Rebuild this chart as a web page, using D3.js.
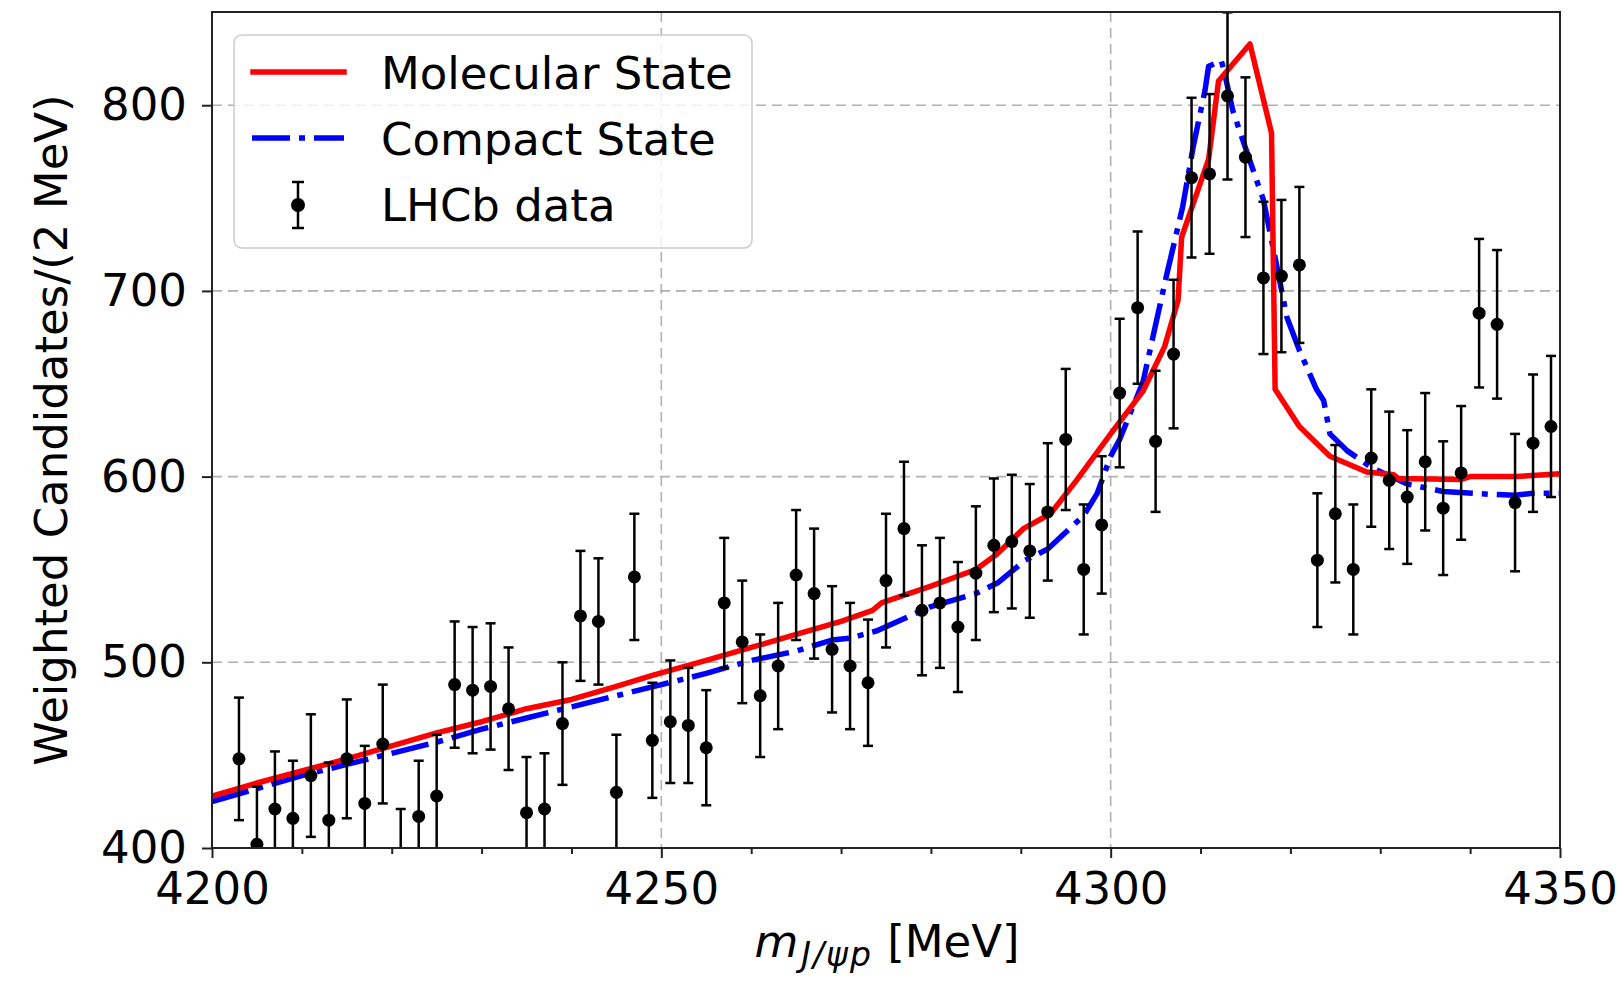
<!DOCTYPE html>
<html>
<head>
<meta charset="utf-8">
<script src="https://cdn.jsdelivr.net/npm/d3@7"></script>
<style>
body { margin: 0; background: #fff; }
svg text { font-family: 'DejaVu Sans', sans-serif; fill: #000; }
</style>
</head>
<body>
<svg width="1623" height="989"></svg>
<script>
// LHCb points (bin centre, weighted candidates, error)
var binMass = [4203, 4205, 4207, 4209, 4211, 4213, 4215, 4217, 4219, 4221, 4223, 4225, 4227, 4229, 4231, 4233, 4235, 4237, 4239, 4241,
               4243, 4245, 4247, 4249, 4251, 4253, 4255, 4257, 4259, 4261, 4263, 4265, 4267, 4269, 4271, 4273, 4275, 4277, 4279, 4281,
               4283, 4285, 4287, 4289, 4291, 4293, 4295, 4297, 4299, 4301, 4303, 4305, 4307, 4309, 4311, 4313, 4315, 4317, 4319, 4321,
               4323, 4325, 4327, 4329, 4331, 4333, 4335, 4337, 4339, 4341, 4343, 4345, 4347, 4349];
var binCounts = [448, 402, 421, 416, 439, 415, 448, 424, 456, 390, 417, 428, 488, 485, 487, 475, 419, 421, 467, 525,
                 522, 430, 546, 458, 468, 466, 454, 532, 511, 482, 498, 547, 537, 507, 498, 489, 544, 572, 528, 532,
                 519, 548, 563, 565, 560, 581, 620, 550, 574, 645, 691, 619, 666, 761, 763, 805, 772, 707, 708, 714,
                 555, 580, 550, 610, 598, 589, 608, 583, 602, 688, 682, 586, 618, 627];
var binErrors = [33, 31, 31, 31, 33, 31, 32, 31, 32, 31, 30, 33, 34, 34, 34, 33, 30, 30, 33, 35,
                 34, 31, 34, 31, 33, 31, 31, 35, 33, 33, 34, 35, 35, 34, 34, 34, 36, 36, 35, 35,
                 35, 36, 36, 36, 36, 37, 38, 35, 37, 40, 41, 38, 40, 43, 43, 45, 43, 41, 41, 42,
                 36, 37, 35, 37, 37, 36, 37, 36, 36, 40, 40, 37, 37, 38];

// Molecular state curve
var molMass = [4200, 4205, 4210, 4215, 4220, 4225, 4230, 4235, 4240, 4245, 4249, 4255, 4260, 4265, 4270, 4273.5, 4274.5, 4280, 4285, 4287.3,
               4290.3, 4293.3, 4296.2, 4300, 4303.6, 4306, 4307.5, 4307.9, 4310.9, 4312, 4315.5, 4317.9, 4318.3, 4321, 4324.4, 4328.5, 4331.5, 4332, 4339, 4340,
               4345, 4350];
var molValues = [428, 435, 441.5, 448, 455, 462, 468, 475, 480, 487, 493, 501, 508, 515, 522, 528, 532, 541, 550, 558,
                 572, 580, 598, 623, 646, 670, 695, 729, 771, 813, 833, 785, 647, 627, 611, 602.5, 601, 599, 598.5, 600,
                 600, 601.5];

// Compact state curve
var compMass = [4200, 4205, 4210, 4215, 4220, 4225, 4230, 4235, 4240, 4245, 4250, 4255, 4260, 4265, 4269, 4271, 4274, 4280, 4285, 4287.5,
                4290.5, 4293, 4295, 4297, 4298.5, 4300, 4301, 4302, 4303.6, 4306.2, 4308, 4309.2, 4310.5, 4310.9, 4312.3, 4312.6, 4313.6, 4315, 4317, 4318.5,
                4319.6, 4321, 4322.9, 4323.7, 4324.4, 4326.3, 4329, 4333, 4337, 4342, 4345, 4347, 4350];
var compValues = [425, 432, 439, 445, 451, 457, 464, 470, 476, 482, 488, 494, 501, 506, 512, 513, 517, 530, 537, 543,
                  555, 561, 570, 579, 591, 611, 620, 632, 651, 708, 745, 778, 808, 821, 824, 819, 797, 777, 749, 713,
                  686, 668, 647, 641, 623, 614, 605, 596, 592, 590.5, 590, 591, 591];

var xTicks = [4200, 4250, 4300, 4350];
var xMinorTicks = [4210, 4220, 4230, 4240, 4260, 4270, 4280, 4290, 4310, 4320, 4330, 4340];
var yTicks = [400, 500, 600, 700, 800];
var legendLabels = ['Molecular State', 'Compact State', 'LHCb data'];

var margin = {top: 12, right: 63, bottom: 141, left: 212};
var width = 1623 - margin.left - margin.right;
var height = 989 - margin.top - margin.bottom;

var svg = d3.select('svg');
var mySVG = svg.append('g')
  .attr('transform', 'translate(' + margin.left + ',' + margin.top + ')');

// scales
var xScale = d3.scaleLinear().domain([4200, 4350]).range([0, width]);
var yScale = d3.scaleLinear().domain([400, 850.2]).range([height, 0]);

mySVG.append('clipPath').attr('id', 'plotClip')
  .append('rect').attr('width', width).attr('height', height);

// grid
mySVG.append('g').selectAll('line')
  .data(xTicks).enter().append('line')
  .attr('x1', d => xScale(d)).attr('x2', d => xScale(d))
  .attr('y1', 0).attr('y2', height)
  .attr('stroke', '#b0b0b0').attr('stroke-width', 1.6).attr('stroke-dasharray', '10,6');
mySVG.append('g').selectAll('line')
  .data(yTicks).enter().append('line')
  .attr('x1', 0).attr('x2', width)
  .attr('y1', d => yScale(d)).attr('y2', d => yScale(d))
  .attr('stroke', '#b0b0b0').attr('stroke-width', 1.6).attr('stroke-dasharray', '10,6');

var plot = mySVG.append('g').attr('clip-path', 'url(#plotClip)');

var line = d3.line().x(d => xScale(d[0])).y(d => yScale(d[1]));

// compact state
plot.append('path')
  .datum(compMass.map((m, i) => [m, compValues[i]]))
  .attr('d', line)
  .attr('fill', 'none').attr('stroke', '#0000ff').attr('stroke-width', 5.5)
  .attr('stroke-dasharray', '38,9,6,9').attr('stroke-linejoin', 'round');

// molecular state
plot.append('path')
  .datum(molMass.map((m, i) => [m, molValues[i]]))
  .attr('d', line)
  .attr('fill', 'none').attr('stroke', '#ff0000').attr('stroke-width', 5.5)
  .attr('stroke-linejoin', 'round');

// data with error bars
var pts = plot.selectAll('.pt')
  .data(binMass.map((m, i) => ({m: m, v: binCounts[i], e: binErrors[i]})))
  .enter().append('g').attr('class', 'pt');

pts.append('line')
  .attr('x1', d => xScale(d.m)).attr('x2', d => xScale(d.m))
  .attr('y1', d => yScale(d.v - d.e)).attr('y2', d => yScale(d.v + d.e))
  .attr('stroke', '#000').attr('stroke-width', 2.5);
pts.selectAll('.cap')
  .data(d => [[d.m, d.v - d.e], [d.m, d.v + d.e]])
  .enter().append('line')
  .attr('x1', d => xScale(d[0]) - 5).attr('x2', d => xScale(d[0]) + 5)
  .attr('y1', d => yScale(d[1])).attr('y2', d => yScale(d[1]))
  .attr('stroke', '#000').attr('stroke-width', 2.5);
pts.append('circle')
  .attr('cx', d => xScale(d.m)).attr('cy', d => yScale(d.v))
  .attr('r', 6.5).attr('fill', '#000');

// axes
var xAxisGroup = mySVG.append('g')
  .attr('class', 'xAxis')
  .attr('transform', 'translate(0,' + height + ')');
xAxisGroup.call(d3.axisBottom(xScale).tickValues(xTicks).tickSize(10).tickPadding(14).tickFormat(d3.format('d')));
var xMinorGroup = mySVG.append('g')
  .attr('transform', 'translate(0,' + height + ')');
xMinorGroup.call(d3.axisBottom(xScale).tickValues(xMinorTicks).tickSize(6).tickFormat(''));
xMinorGroup.select('.domain').remove();

var yAxisGroup = mySVG.append('g').attr('class', 'yAxis');
yAxisGroup.call(d3.axisLeft(yScale).tickValues(yTicks).tickSize(10).tickPadding(15));

mySVG.selectAll('.tick line').attr('stroke', '#222').attr('stroke-width', 2);
mySVG.selectAll('.tick text').attr('font-size', 45).style('font-family', "'DejaVu Sans', sans-serif");
mySVG.selectAll('.domain').remove();

// frame
mySVG.append('rect')
  .attr('width', width).attr('height', height)
  .attr('fill', 'none').attr('stroke', '#222').attr('stroke-width', 2);

// axis labels
svg.append('text')
  .attr('transform', 'translate(67,' + (margin.top + height / 2) + ') rotate(-90)')
  .attr('text-anchor', 'middle')
  .attr('font-size', 45)
  .text('Weighted Candidates/(2 MeV)');

var xLabel = svg.append('text')
  .attr('x', margin.left + width / 2 + 1)
  .attr('y', 957)
  .attr('text-anchor', 'middle')
  .attr('font-size', 45);
xLabel.append('tspan').attr('font-style', 'italic').text('m');
xLabel.append('tspan').attr('font-style', 'italic').attr('font-size', 33).attr('dx', 3).attr('dy', 9)
  .attr('letter-spacing', 2).text('J/\u03C8p');
xLabel.append('tspan').attr('dy', -9).text(' [MeV]');

// legend
var legend = svg.append('g');
legend.append('rect')
  .attr('x', 234).attr('y', 35).attr('width', 518).attr('height', 213).attr('rx', 8)
  .attr('fill', '#fff').attr('fill-opacity', 0.8)
  .attr('stroke', '#cccccc').attr('stroke-width', 1.5);

legend.append('line')
  .attr('x1', 253).attr('x2', 344).attr('y1', 72).attr('y2', 72)
  .attr('stroke', '#ff0000').attr('stroke-width', 5.5).attr('stroke-linecap', 'square');
legend.append('line')
  .attr('x1', 252).attr('x2', 344).attr('y1', 138).attr('y2', 138)
  .attr('stroke', '#0000ff').attr('stroke-width', 5.5).attr('stroke-dasharray', '38,9,6,9');
legend.append('line')
  .attr('x1', 298).attr('x2', 298).attr('y1', 182).attr('y2', 228)
  .attr('stroke', '#000').attr('stroke-width', 2.5);
legend.selectAll('.lcap').data([182, 228]).enter().append('line')
  .attr('x1', 292).attr('x2', 304).attr('y1', d => d).attr('y2', d => d)
  .attr('stroke', '#000').attr('stroke-width', 2.5);
legend.append('circle').attr('cx', 298).attr('cy', 205).attr('r', 7).attr('fill', '#000');

legend.selectAll('.ltext').data(legendLabels).enter().append('text')
  .attr('x', 381)
  .attr('y', (d, i) => 89 + i * 66)
  .attr('font-size', 45)
  .text(d => d);
</script>
</body>
</html>
